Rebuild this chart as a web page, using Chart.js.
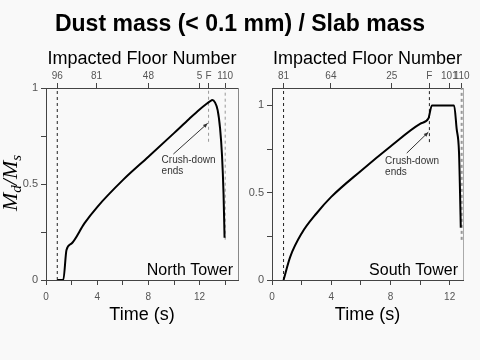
<!DOCTYPE html>
<html><head><meta charset="utf-8">
<script src="https://cdn.jsdelivr.net/npm/chart.js@4.4.1/dist/chart.umd.min.js"></script>
<style>
html,body{margin:0;padding:0;background:#f9f9f9;}
#wrap{position:relative;width:480px;height:360px;overflow:hidden;}
#title{position:absolute;left:0;top:9px;width:480px;text-align:center;font:bold 23px "Liberation Sans",Arial,sans-serif;line-height:28px;color:#000;}
canvas{position:absolute;top:0;}
#c1{left:0;} #c2{left:240px;}
</style></head><body>
<div id="wrap">
<canvas id="c1" width="240" height="360"></canvas>
<canvas id="c2" width="240" height="360"></canvas>
<div id="title">Dust mass (&lt; 0.1 mm) / Slab mass</div>
</div>
<script>
// ---- data ----
const northTime = [0.88, 1.35, 1.6, 2, 3, 4, 6, 8, 10, 11.2, 12, 12.5, 12.8, 13.0, 13.2, 13.41, 13.6, 13.75, 13.87, 13.95];
const northDust = [0, 0, 0.156, 0.19, 0.295, 0.38, 0.52, 0.642, 0.765, 0.84, 0.888, 0.915, 0.93, 0.9375, 0.925, 0.885, 0.79, 0.65, 0.45, 0.22];
const southTime = [0.78, 1.23, 2, 3, 4, 6, 8, 10, 10.56, 10.8, 12.3, 12.47, 12.63, 12.7, 12.75];
const southDust = [0, 0.133, 0.267, 0.381, 0.476, 0.625, 0.765, 0.895, 0.925, 1.0, 1.0, 0.867, 0.733, 0.5, 0.30];

const northFloorLabels = ['96', '81', '48', '5', 'F', '110'];
const northFloorTimes = [0.88, 3.95, 8.0, 12.0, 12.7, 14.0];
const southFloorLabels = ['81', '64', '25', 'F', '101', '110'];
const southFloorTimes = [0.78, 3.98, 8.09, 10.63, 11.98, 12.81];

const timeTicks = [0, 2, 4, 6, 8, 10, 12, 14];
const timeTickLabels = ['0', '', '4', '', '8', '', '12', ''];
const dustTicks = [0, 0.25, 0.5, 0.75, 1];
const dustTickLabels = ['0', '', '0.5', '', '1'];

const northMarkTimes = [0.88, 12.7, 14.0];
const northMarkFrom = [0, 0.72, 0.21];
const northMarkTo = [1, 1, 1];
const southMarkTimes = [0.78, 10.63, 12.81];
const southMarkFrom = [0, 0.79, 0.23];
const southMarkTo = [1.1, 1.1, 1.1];

Chart.defaults.font.family = '"Liberation Sans", Arial, sans-serif';

const annot = {
  id: 'annot',
  afterDatasetsDraw(chart, args, o) {
    const {ctx, chartArea: a, scales: {x, y}} = chart;
    ctx.save();
    // right frame
    ctx.strokeStyle = o.frameColor; ctx.lineWidth = 1;
    ctx.beginPath(); ctx.moveTo(a.right + 0.5, a.top); ctx.lineTo(a.right + 0.5, a.bottom); ctx.stroke();
    // tower label
    ctx.fillStyle = '#000';
    ctx.font = '16px "Liberation Sans", Arial, sans-serif';
    ctx.textAlign = 'right'; ctx.textBaseline = 'alphabetic';
    ctx.fillText(o.tower, a.right - 5, a.bottom - 5);
    // crush-down note
    ctx.fillStyle = '#333';
    ctx.font = '10px "Liberation Sans", Arial, sans-serif';
    ctx.textAlign = 'left';
    const tx = x.getPixelForValue(o.textAt[0]), ty = y.getPixelForValue(o.textAt[1]);
    ctx.fillText('Crush-down', tx, ty);
    ctx.fillText('ends', tx, ty + 11);
    // arrow
    const x0 = x.getPixelForValue(o.arrowFrom[0]), y0 = y.getPixelForValue(o.arrowFrom[1]);
    const x1 = x.getPixelForValue(o.arrowTo[0]), y1 = y.getPixelForValue(o.arrowTo[1]);
    ctx.strokeStyle = '#333'; ctx.lineWidth = 1;
    ctx.beginPath(); ctx.moveTo(x0, y0); ctx.lineTo(x1, y1); ctx.stroke();
    const ang = Math.atan2(y1 - y0, x1 - x0);
    ctx.beginPath();
    ctx.moveTo(x1, y1);
    ctx.lineTo(x1 - 5 * Math.cos(ang - 0.4), y1 - 5 * Math.sin(ang - 0.4));
    ctx.lineTo(x1 - 5 * Math.cos(ang + 0.4), y1 - 5 * Math.sin(ang + 0.4));
    ctx.closePath(); ctx.fillStyle = '#333'; ctx.fill();
    // y axis title with subscripts
    if (o.yTitle) {
      ctx.translate(o.yTitle.x, o.yTitle.y);
      ctx.rotate(-Math.PI / 2);
      ctx.fillStyle = '#000';
      const big = 'italic 22px "Liberation Serif", "Times New Roman", serif';
      const small = 'italic 15px "Liberation Serif", "Times New Roman", serif';
      const parts = [['M', big, 0], ['d', small, 4], ['/', big, 0], ['M', big, 0], ['s', small, 4]];
      let total = 0;
      parts.forEach(p => { ctx.font = p[1]; p.push(ctx.measureText(p[0]).width); total += p[3]; });
      let cx = -total / 2;
      ctx.textAlign = 'left';
      parts.forEach(p => { ctx.font = p[1]; ctx.fillText(p[0], cx, p[2]); cx += p[3]; });
    }
    ctx.restore();
  }
};

function buildChart(id, c) {
  const datasets = [{
    data: c.time.map((t, i) => ({x: t, y: c.dust[i]})),
    borderColor: '#000', borderWidth: 2, pointRadius: 0, cubicInterpolationMode: 'monotone',
    fill: false, order: 0
  }];
  c.markTimes.forEach((t, i) => {
    datasets.push({
      data: [{x: t, y: c.markFrom[i]}, {x: t, y: c.markTo[i]}],
      borderColor: c.markColors[i], borderWidth: c.markWidths[i], borderDash: [3, 3],
      pointRadius: 0, fill: false, order: 1
    });
  });
  const gridCfg = {display: true, drawOnChartArea: false, drawTicks: true, tickLength: 5, color: '#444'};
  const borderCfg = {display: true, color: '#444', width: 1};
  return new Chart(document.getElementById(id), {
    type: 'line',
    data: {datasets},
    options: {
      responsive: false, animation: false, events: [],
      layout: {padding: {left: 0, right: c.padRight, top: 0, bottom: 0}},
      plugins: {legend: {display: false}, tooltip: {enabled: false}, annot: c.annot},
      scales: {
        x: {
          type: 'linear', position: 'bottom', min: 0, max: c.xMax, offset: false,
          afterBuildTicks: s => { s.ticks = timeTicks.filter(v => v <= c.xMax).map(v => ({value: v})); },
          afterFit: s => { s.height = 80; },
          ticks: {autoSkip: false, maxRotation: 0, padding: 6, color: '#555', font: {size: 10},
            callback: v => timeTickLabels[timeTicks.indexOf(v)]},
          grid: gridCfg, border: borderCfg,
          title: {display: true, text: 'Time (s)', color: '#000', font: {size: 18}, padding: {top: 0, bottom: 34}}
        },
        x2: {
          type: 'linear', position: 'top', min: 0, max: c.xMax, offset: false,
          afterBuildTicks: s => { s.ticks = c.floorTimes.map(v => ({value: v})); },
          afterFit: s => { s.height = 88; },
          ticks: {autoSkip: false, maxRotation: 0, padding: 1, color: '#555', font: {size: 10},
            callback: (v, i) => c.floorLabels[i]},
          grid: gridCfg, border: borderCfg,
          title: {display: true, text: 'Impacted Floor Number', color: '#000', font: {size: 18}, padding: {top: 48, bottom: 0}}
        },
        y: {
          type: 'linear', position: 'left', min: 0, max: c.yMax,
          afterBuildTicks: s => { s.ticks = dustTicks.map(v => ({value: v})); },
          afterFit: s => { s.width = c.yWidth; },
          ticks: {autoSkip: false, padding: 3, color: '#555', font: {size: 11},
            callback: v => dustTickLabels[dustTicks.indexOf(v)]},
          grid: gridCfg, border: borderCfg
        }
      }
    },
    plugins: [annot]
  });
}

buildChart('c1', {
  time: northTime, dust: northDust, xMax: 15, yMax: 1, yWidth: 46, padRight: 2,
  floorTimes: northFloorTimes, floorLabels: northFloorLabels,
  markTimes: northMarkTimes, markFrom: northMarkFrom, markTo: northMarkTo,
  markColors: ['#222', '#999', '#999'], markWidths: [1, 1, 1],
  annot: {frameColor: '#888', tower: 'North Tower', textAt: [9.03, 0.611],
    arrowFrom: [9.95, 0.656], arrowTo: [12.63, 0.816], yTitle: {x: 17, y: 183}}
});
buildChart('c2', {
  time: southTime, dust: southDust, xMax: 12.9, yMax: 1.1, yWidth: 32, padRight: 17,
  floorTimes: southFloorTimes, floorLabels: southFloorLabels,
  markTimes: southMarkTimes, markFrom: southMarkFrom, markTo: southMarkTo,
  markColors: ['#222', '#222', '#999'], markWidths: [1, 1, 2],
  annot: {frameColor: '#aaa', tower: 'South Tower', textAt: [7.64, 0.667],
    arrowFrom: [9.1, 0.727], arrowTo: [10.56, 0.847], yTitle: null}
});
</script>
</body></html>
